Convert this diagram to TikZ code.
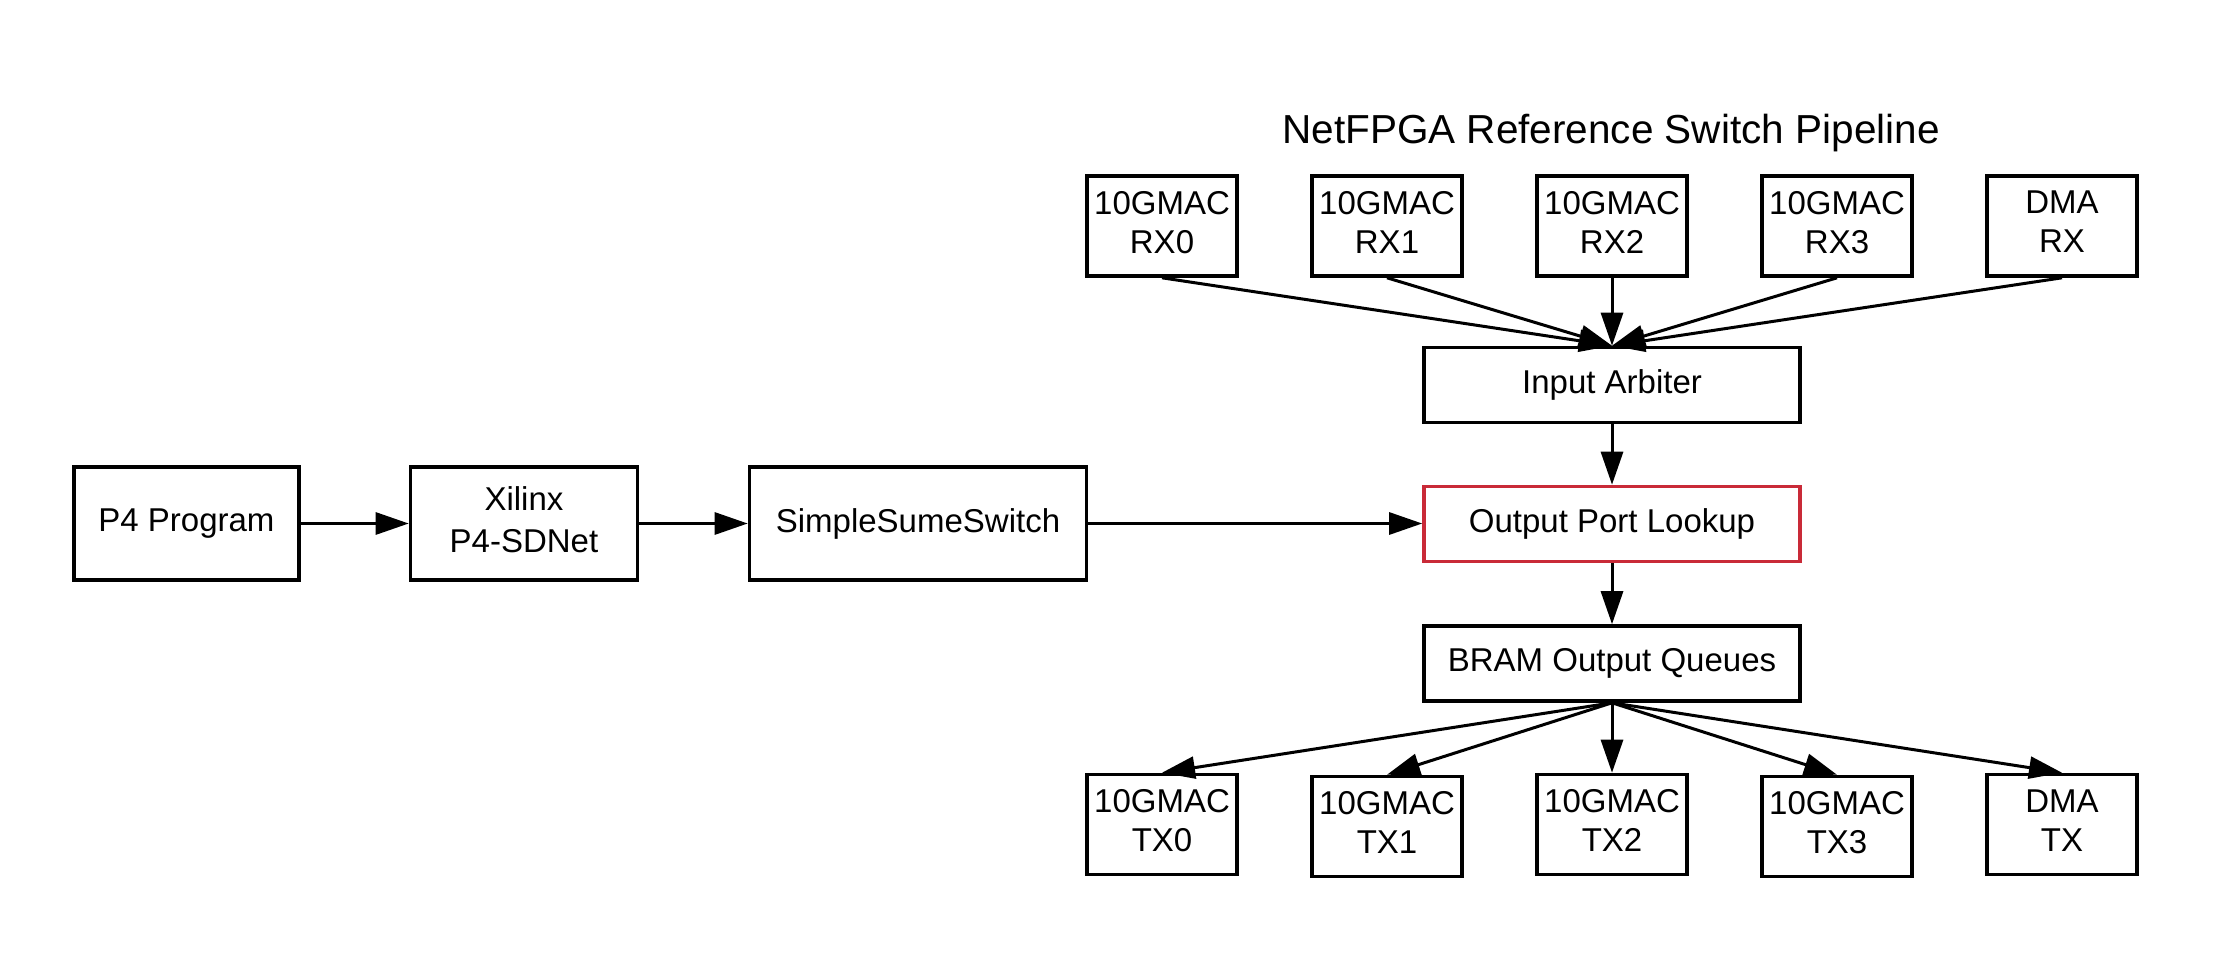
\documentclass[tikz,border=0pt]{standalone}
\usepackage{fontspec}
\setmainfont{Liberation Sans}
\usetikzlibrary{arrows.meta}
\definecolor{lucidred}{RGB}{201,42,56}
\newcommand{\padlow}{\rule[-8pt]{0pt}{8pt}}
\begin{document}
\begin{tikzpicture}[x=1pt,y=-1pt,
  box/.style={draw, line width=3.6pt, inner sep=0pt, font=\fontsize{33}{39}\selectfont, align=center},
  wide/.style={box, minimum width=376pt, minimum height=75pt},
  port/.style={box, minimum width=150pt, minimum height=100pt},
  left/.style={box, minimum height=113pt},
  conn/.style={line width=3pt, -{Triangle[length=33pt,width=22pt]}},
]
\useasboundingbox (0,0) rectangle (2213,953);

\node[font=\fontsize{40.5}{48}\selectfont, anchor=base, inner sep=0pt] (title) at (1611,143) {NetFPGA Reference Switch Pipeline};

\node[left, minimum width=225pt] (p4) at (186.5,523.5) {P4 Program};
\node[left, minimum width=227pt, font=\fontsize{33}{41.5}\selectfont] (xil) at (524,523.5) {Xilinx\\P4-SDNet\padlow};
\node[left, minimum width=337pt] (sss) at (918,523.5) {SimpleSumeSwitch};

\node[port] (rx0) at (1162,226) {10GMAC\\RX0\padlow};
\node[port] (rx1) at (1387,226) {10GMAC\\RX1\padlow};
\node[port] (rx2) at (1612,226) {10GMAC\\RX2\padlow};
\node[port] (rx3) at (1837,226) {10GMAC\\RX3\padlow};
\node[port] (rxd) at (2062,226) {DMA\\RX\padlow};

\node[wide] (ia) at (1612,385) {Input Arbiter};
\node[wide, draw=lucidred] (opl) at (1612,524) {Output Port Lookup};
\node[wide] (bram) at (1612,663.5) {BRAM Output Queues};

\node[port] (tx0) at (1162,824.5) {10GMAC\\TX0\padlow};
\node[port] (tx1) at (1387,826.5) {10GMAC\\TX1\padlow};
\node[port] (tx2) at (1612,824.5) {10GMAC\\TX2\padlow};
\node[port] (tx3) at (1837,826.5) {10GMAC\\TX3\padlow};
\node[port] (txd) at (2062,824.5) {DMA\\TX\padlow};

\draw[conn] (p4.east) -- (xil.west);
\draw[conn] (xil.east) -- (sss.west);
\draw[conn] (sss.east) -- (sss.east -| opl.west);

\foreach \n in {rx0,rx1,rx2,rx3,rxd} \draw[conn] (\n.south) -- (ia.north);
\draw[conn] (ia.south) -- (opl.north);
\draw[conn] (opl.south) -- (bram.north);
\foreach \n in {tx0,tx1,tx2,tx3,txd} \draw[conn] (bram.south) -- (\n.north);
\end{tikzpicture}
\end{document}
